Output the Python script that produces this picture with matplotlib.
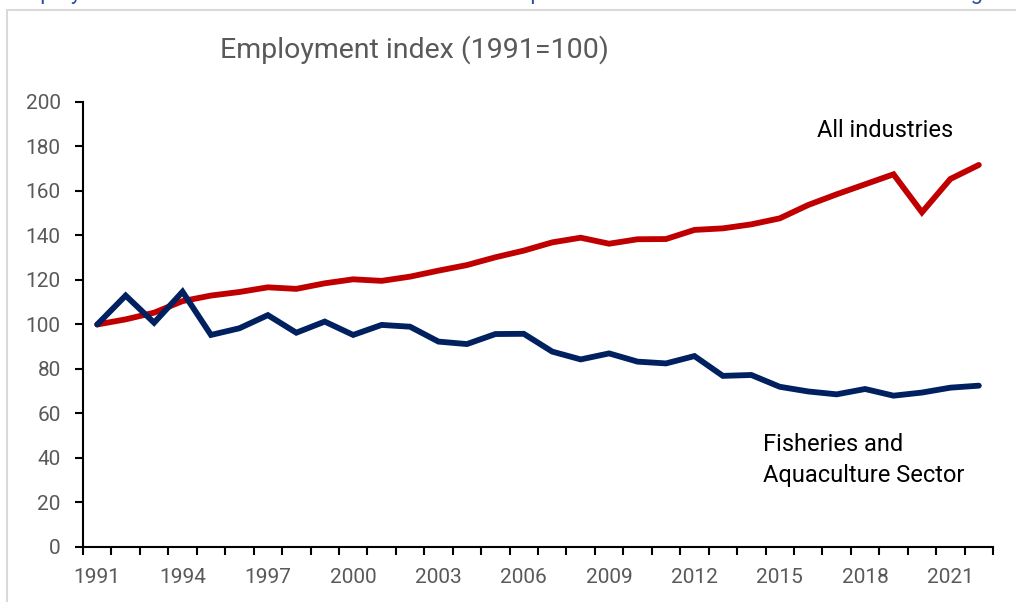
import numpy as np
import matplotlib
matplotlib.use("Agg")
import matplotlib.pyplot as plt
from matplotlib.patches import Rectangle
from matplotlib.ticker import FixedLocator, FixedFormatter

# Employment index, 1991 = 100
years = list(range(1991, 2023))
all_industries = [
    100.0, 102.3, 105.3, 110.5, 113.0, 114.6, 116.7, 116.0, 118.5, 120.3,
    119.6, 121.5, 124.2, 126.7, 130.2, 133.2, 136.9, 139.0, 136.3, 138.3,
    138.4, 142.5, 143.2, 145.0, 147.7, 153.7, 158.5, 163.0, 167.5, 150.4,
    165.4, 171.7,
]
fisheries = [
    100.0, 113.0, 100.8, 114.7, 95.3, 98.3, 104.2, 96.3, 101.3, 95.3,
    99.8, 99.0, 92.3, 91.2, 95.7, 95.8, 87.8, 84.3, 87.0, 83.3,
    82.5, 85.8, 76.9, 77.3, 72.0, 69.9, 68.6, 71.0, 68.0, 69.4,
    71.6, 72.5,
]
label_years = list(range(1991, 2022, 3))
y_ticks = list(range(0, 201, 20))

RED = "#C00000"
NAVY = "#002060"
GREY = "#595959"

plt.rcParams["font.family"] = ["Roboto", "DejaVu Sans"]

fig = plt.figure(figsize=(10.16, 6.02), dpi=100)
ax = fig.add_axes([0.0817, 0.0914, 0.8957, 0.7392])

ax.plot(years, all_industries, color=RED, lw=4.2, solid_capstyle="round",
        solid_joinstyle="miter", zorder=3)
ax.plot(years, fisheries, color=NAVY, lw=4.2, solid_capstyle="round",
        solid_joinstyle="miter", zorder=3)

ax.set_xlim(years[0] - 0.5, years[-1] + 0.5)
ax.set_ylim(0, 200)

# category axis: tick marks between years, labels every third year
ax.xaxis.set_major_locator(FixedLocator(np.arange(years[0] - 0.5, years[-1] + 1.0, 1.0)))
ax.xaxis.set_minor_locator(FixedLocator(label_years))
ax.xaxis.set_minor_formatter(FixedFormatter([str(y) for y in label_years]))
ax.tick_params(axis="x", which="major", length=6, width=1.5, labelbottom=False,
               color="black")
ax.tick_params(axis="x", which="minor", length=0, pad=15, labelsize=15,
               labelcolor=GREY)
ax.set_yticks(y_ticks)
ax.tick_params(axis="y", length=6, width=1.5, pad=10, labelsize=15,
               labelcolor=GREY, color="black")

for side in ("top", "right"):
    ax.spines[side].set_visible(False)
for side in ("left", "bottom"):
    ax.spines[side].set_linewidth(1.5)
    ax.spines[side].set_color("black")

ax.text(2016.3, 187, "All industries", fontsize=17, color="black",
        ha="left", va="center")
ax.text(2014.4, 39, "Fisheries and\nAquaculture Sector", fontsize=17,
        color="black", ha="left", va="center", linespacing=1.45)

fig.text(220 / 1016, 1 - 50 / 602, "Employment index (1991=100)", fontsize=20.5,
         color=GREY, ha="left", va="center")

# heading line above the chart frame, mostly outside the canvas
fig.text(8 / 1016, 1.0 + 1 / 602,
         "Employment in the fisheries sector has declined compared with the total for all industries in the region",
         fontsize=16, color="#2F4F9F", ha="left", va="baseline")

# chart frame
fig.add_artist(Rectangle((7 / 1016, -0.05), 1.2, 1.05 - 10 / 602,
                         transform=fig.transFigure, fill=False,
                         edgecolor="#D9D9D9", lw=1.5))

fig.savefig("out.png", dpi=100)
